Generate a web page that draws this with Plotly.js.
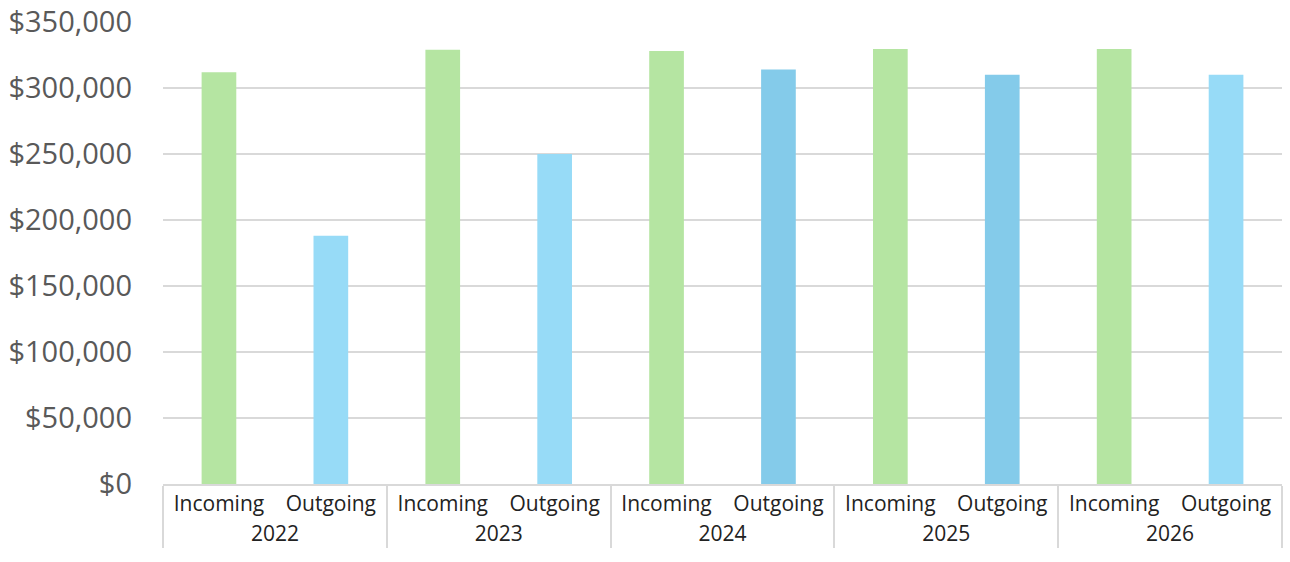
<!DOCTYPE html>
<html>
<head>
<meta charset="utf-8">
<script src="https://cdn.plot.ly/plotly-3.0.1.min.js"></script>
<style>html,body{margin:0;padding:0;background:#fff;}#chart{width:1290px;height:562px;}</style>
</head>
<body>
<div id="chart"></div>
<script>
const years = ["2022","2022","2023","2023","2024","2024","2025","2025","2026","2026"];
const flows = ["Incoming","Outgoing","Incoming","Outgoing","Incoming","Outgoing","Incoming","Outgoing","Incoming","Outgoing"];
const amounts = [312000, 188000, 329000, 250000, 328000, 314000, 329500, 310000, 329500, 310000];
const barColors = ["#b5e5a2","#97dbf7","#b5e5a2","#97dbf7","#b5e5a2","#84cbea","#b5e5a2","#84cbea","#b5e5a2","#97dbf7"];

const trace = {
  type: "bar",
  x: [years, flows],
  y: amounts,
  marker: {color: barColors},
  hoverinfo: "none"
};

const layout = {
  width: 1290, height: 562,
  margin: {l: 163, r: 8, t: 22, b: 78},
  paper_bgcolor: "#fff", plot_bgcolor: "#fff",
  bargap: 0.69,
  showlegend: false,
  font: {family: "Open Sans, sans-serif"},
  yaxis: {
    range: [0, 350000],
    dtick: 50000,
    tickprefix: "$",
    tickformat: ",",
    gridcolor: "#d9d9d9",
    gridwidth: 2,
    zeroline: false,
    showline: false,
    ticks: "",
    tickfont: {size: 29, color: "#595959"},
    ticklabelstandoff: 30
  },
  xaxis: {
    type: "multicategory",
    showline: true,
    linecolor: "#d9d9d9",
    linewidth: 2,
    showdividers: true,
    dividercolor: "#d9d9d9",
    dividerwidth: 2,
    tickfont: {size: 21, color: "#222"},
    ticks: "outside",
    ticklen: 10,
    tickcolor: "rgba(0,0,0,0)"
  }
};

Plotly.newPlot("chart", [trace], layout, {staticPlot: true, displayModeBar: false});
</script>
</body>
</html>
